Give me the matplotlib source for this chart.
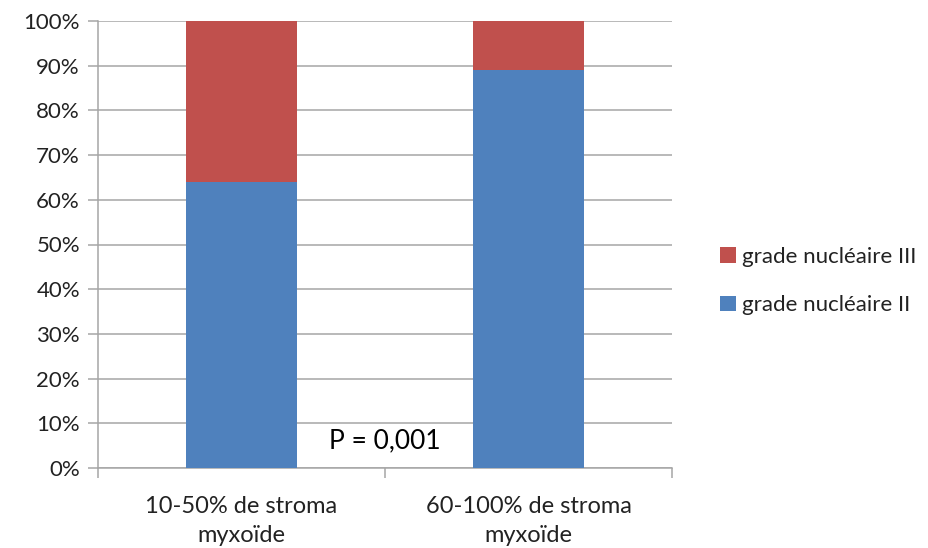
import matplotlib
matplotlib.use("Agg")
import matplotlib.pyplot as plt
from matplotlib.ticker import FixedLocator
from matplotlib.patches import Patch

categories = ["10-50% de stroma\nmyxoïde", "60-100% de stroma\nmyxoïde"]
grade_II = [64, 89]
grade_III = [36, 11]
series_labels = ["grade nucléaire II", "grade nucléaire III"]
colors = ["#4F81BD", "#C0504D"]
yticks = list(range(0, 101, 10))

plt.rcParams['font.family'] = ['Lato', 'DejaVu Sans']

fig = plt.figure(figsize=(9.29, 5.48), dpi=100)
ax = fig.add_axes([98/929, 1-468/548, (672-98)/929, (468-21)/548])

x = list(range(len(categories)))
w = 0.39
ax.bar(x, grade_II, width=w, color=colors[0], zorder=3)
ax.bar(x, grade_III, width=w, bottom=grade_II, color=colors[1], zorder=3)

ax.set_xlim(-0.5, 1.5)
ax.set_ylim(0, 100)
ax.set_yticks(yticks)
ax.set_yticklabels([f"{t}%" for t in yticks], fontsize=16, color="#222222")
ax.yaxis.grid(True, color="#A6A6A6", linewidth=1.1, zorder=0)
ax.set_axisbelow(True)

ax.set_xticks(x)
ax.set_xticklabels(categories, fontsize=17, color="#222222", linespacing=1.5)
ax.tick_params(axis='x', which='major', length=0, pad=20)
ax.xaxis.set_minor_locator(FixedLocator([-0.5, 0.5, 1.5]))
ax.tick_params(axis='x', which='minor', length=7, color="#A6A6A6", width=1.1)
ax.tick_params(axis='y', length=7, color="#A6A6A6", width=1.1, pad=6)

for s in ["top", "right"]:
    ax.spines[s].set_visible(False)
for s in ["left", "bottom"]:
    ax.spines[s].set_color("#A6A6A6")
    ax.spines[s].set_linewidth(1.1)

ax.text(0.5, 6, "P = 0,001", ha="center", va="center", fontsize=19, color="black")

handles = [Patch(facecolor=colors[1]), Patch(facecolor=colors[0])]
fig.legend(handles, [series_labels[1], series_labels[0]], loc="center left",
           bbox_to_anchor=(700/929, 1-281/548), frameon=False, fontsize=16,
           handlelength=0.7, handleheight=0.7, handletextpad=0.3,
           labelspacing=1.3, labelcolor="#222222")

fig.savefig("out.png", dpi=100)
